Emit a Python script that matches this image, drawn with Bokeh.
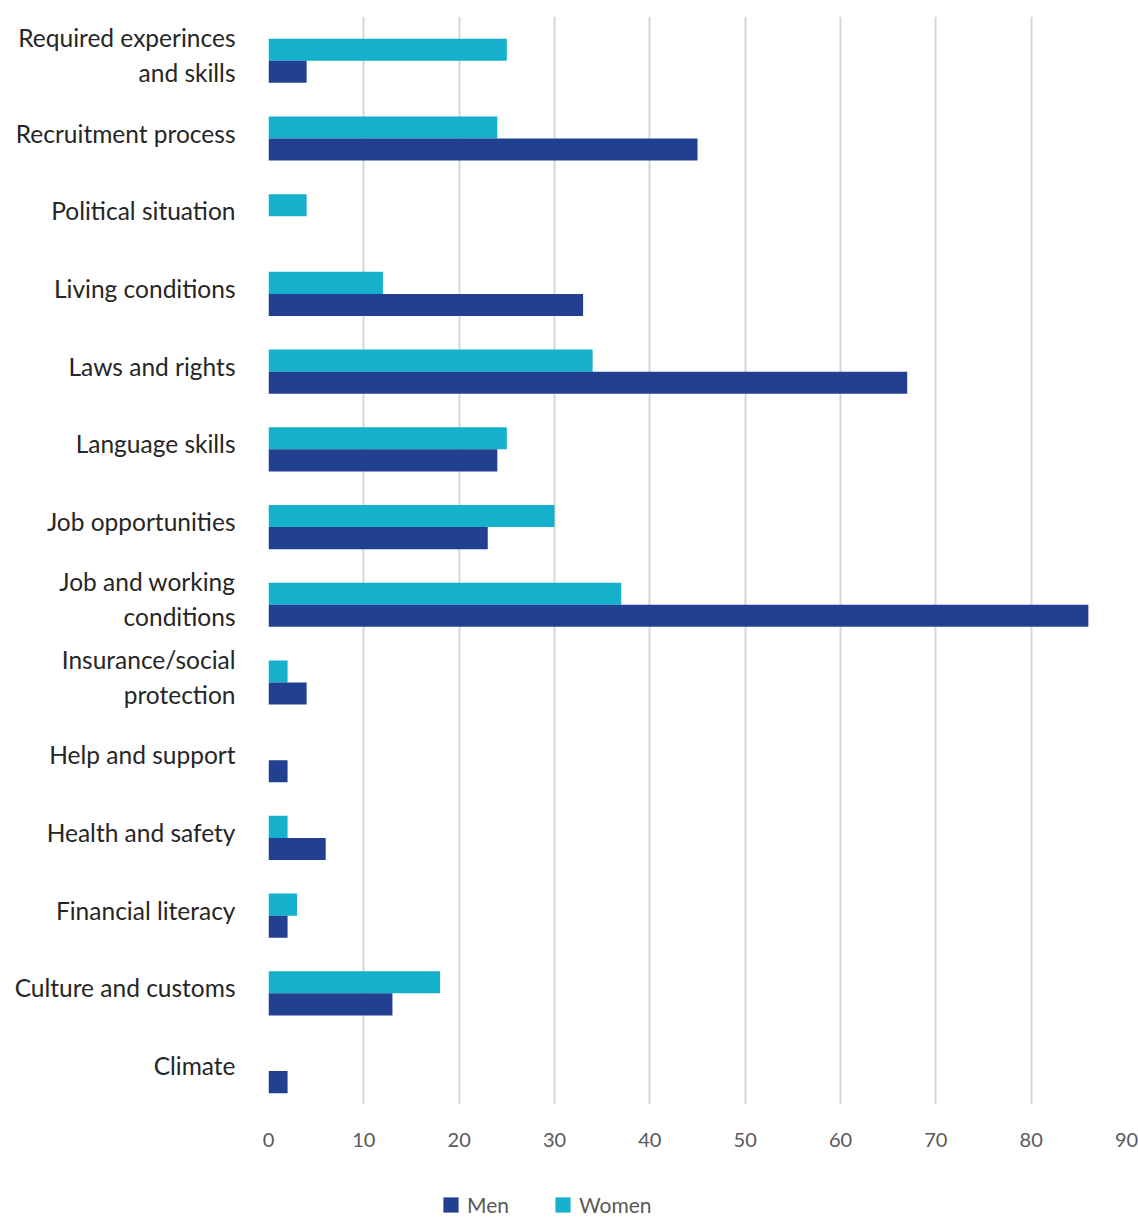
from bokeh.plotting import figure
from bokeh.models import FactorRange, Range1d, Legend, LegendItem, ColumnDataSource, FixedTicker
from bokeh.transform import dodge
from bokeh.layouts import column
from bokeh.embed import file_html
from bokeh.resources import INLINE

categories = ["Required experinces\nand skills", "Recruitment process", "Political situation",
              "Living conditions", "Laws and rights", "Language skills", "Job opportunities",
              "Job and working\nconditions", "Insurance/social\nprotection", "Help and support",
              "Health and safety", "Financial literacy", "Culture and customs", "Climate"]
women = [25, 24, 4, 12, 34, 25, 30, 37, 2, 0, 2, 3, 18, 0]
men = [4, 45, 0, 33, 67, 24, 23, 86, 4, 2, 6, 2, 13, 2]
x_ticks = [0, 10, 20, 30, 40, 50, 60, 70, 80, 90]
series = ["Men", "Women"]

MEN_COLOR = "#21408F"
WOMEN_COLOR = "#14B0CC"
FONT = "Lato"
BAR_H = 0.284
SHIFT = 0.07

src = ColumnDataSource(dict(cat=categories, women=women, men=men))

p = figure(width=1138, height=1177, output_backend="svg", toolbar_location=None,
           x_range=Range1d(0, 90),
           y_range=FactorRange(factors=list(reversed(categories))),
           min_border_left=268, min_border_right=12, min_border_top=16, min_border_bottom=73)
p.outline_line_color = None

p.hbar(y=dodge("cat", BAR_H / 2 - SHIFT, range=p.y_range), right="women", left=0, height=BAR_H,
       source=src, fill_color=WOMEN_COLOR, line_color=None)
p.hbar(y=dodge("cat", -BAR_H / 2 - SHIFT, range=p.y_range), right="men", left=0, height=BAR_H,
       source=src, fill_color=MEN_COLOR, line_color=None)

p.xaxis.ticker = FixedTicker(ticks=x_ticks)
p.xaxis.axis_line_color = None
p.xaxis.major_tick_line_color = None
p.xaxis.minor_tick_line_color = None
p.xaxis.major_label_standoff = 22
p.xaxis.major_label_text_font = FONT
p.xaxis.major_label_text_font_size = "20px"
p.xaxis.major_label_text_color = "#595959"

p.yaxis.axis_line_color = None
p.yaxis.major_tick_line_color = None
p.yaxis.major_label_standoff = 27
p.yaxis.major_label_text_font = FONT
p.yaxis.major_label_text_font_size = "24.5px"
p.yaxis.major_label_text_color = "#262626"

p.ygrid.grid_line_color = None
p.xgrid.grid_line_color = "#D6D6D6"
p.xgrid.grid_line_width = 2

# legend strip below the chart (its frame is aligned with the chart frame)
lf = figure(width=1138, height=40, output_backend="svg", toolbar_location=None,
            x_axis_type=None, y_axis_type=None, x_range=Range1d(0, 1), y_range=Range1d(0, 1),
            min_border_left=268, min_border_right=12, min_border_top=0, min_border_bottom=0)
lf.outline_line_color = None
lf.grid.visible = False
proxy = ColumnDataSource(dict(y=[0.5], left=[0], right=[0]))
lm = lf.hbar(y="y", left="left", right="right", height=0.5, source=proxy,
             fill_color=MEN_COLOR, line_color=None)
lw = lf.hbar(y="y", left="left", right="right", height=0.5, source=proxy,
             fill_color=WOMEN_COLOR, line_color=None)

legend = Legend(items=[LegendItem(label=series[0], renderers=[lm]),
                       LegendItem(label=series[1], renderers=[lw])],
                orientation="horizontal", location=(173, 0))
legend.label_text_font = FONT
legend.label_text_font_size = "21px"
legend.label_text_color = "#595959"
legend.glyph_width = 19
legend.glyph_height = 19
legend.label_standoff = 7
legend.spacing = 44
legend.border_line_color = None
legend.background_fill_alpha = 0
legend.margin = 0
legend.padding = 0
lf.add_layout(legend, "center")

layout = column(p, lf, spacing=0)
open("out.html", "w").write(file_html(layout, INLINE))
